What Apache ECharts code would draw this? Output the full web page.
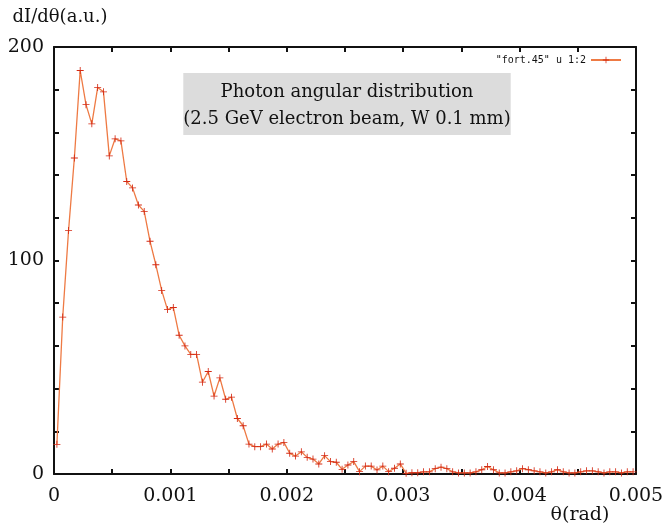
<!DOCTYPE html>
<html>
<head>
<meta charset="utf-8">
<script src="https://cdn.jsdelivr.net/npm/echarts@6/dist/echarts.min.js"></script>
<style>html,body{margin:0;padding:0;background:#fff}#c{width:672px;height:528px}</style>
</head>
<body>
<div id="c"></div>
<script>
// Bin centres in microradians
var thetaMicroRad = [25,75,125,175,225,275,325,375,425,475,
  525,575,625,675,725,775,825,875,925,975,
  1025,1075,1125,1175,1225,1275,1325,1375,1425,1475,
  1525,1575,1625,1675,1725,1775,1825,1875,1925,1975,
  2025,2075,2125,2175,2225,2275,2325,2375,2425,2475,
  2525,2575,2625,2675,2725,2775,2825,2875,2925,2975,
  3025,3075,3125,3175,3225,3275,3325,3375,3425,3475,
  3525,3575,3625,3675,3725,3775,3825,3875,3925,3975,
  4025,4075,4125,4175,4225,4275,4325,4375,4425,4475,
  4525,4575,4625,4675,4725,4775,4825,4875,4925,4975];
var intensity = [13.9,73.5,114,148,189,173,164,181,179,149,
  157,156,137,134,126,123,109,98,86,77,
  78,65,60,56,56,43,48,36.5,45,35,
  36,26,22.6,14,12.8,12.8,14,11.7,14,14.8,
  9.7,8.4,10.4,7.8,7,4.7,8.6,5.8,5.5,2.2,
  4.2,5.8,1.1,3.7,3.7,1.9,3.7,1.1,2.7,4.7,
  0.3,0.6,0.6,1,1,2.5,3.2,2.5,1,0.5,
  0.5,0.5,1,2,3.5,2,0.5,0.5,1,1.5,
  2.5,2,1.5,1,0.5,1,2,1,0.5,0.5,
  1,1.5,1.5,1,0.5,1,1,0.5,1,1];
var xTickLabels = ['0','0.001','0.002','0.003','0.004','0.005'];
var yTickLabels = ['0','100','200'];
var seriesName = '"fort.45" u 1:2';
var titleLines = ['Photon angular distribution','(2.5 GeV electron beam, W 0.1 mm)'];

var data = thetaMicroRad.map(function(t,i){return [t/1e6, intensity[i]];});
var serif = '"DejaVu Serif", "Liberation Serif", serif';
var plus = 'path://M0,4.4H10V5.6H0Z M4.4,0H5.6V10H4.4Z';

function xLab(v){
  var k = Math.round(v*10000);
  if (k % 10 !== 0) return '';
  return xTickLabels[k/10] || '';
}
function yLab(v){
  var k = Math.round(v);
  if (k % 100 !== 0) return '';
  return yTickLabels[k/100] || '';
}
var axisLine = {show:true, onZero:false, lineStyle:{color:'#111', width:2}};
var tick = {show:true, inside:true, length:5, lineStyle:{color:'#111', width:2}};

var chart = echarts.init(document.getElementById('c'));
chart.setOption({
  backgroundColor:'#fff',
  animation:false,
  title:{
    text: titleLines.join('\n'),
    left:347, top:73,
    textAlign:'center',
    backgroundColor:'#dcdcdc',
    padding:[6,0,2,0],
    textStyle:{fontFamily:serif, fontSize:18, fontWeight:'normal', color:'#111', lineHeight:27}
  },
  legend:{
    right:45, top:50, align:'right',
    itemWidth:30, itemHeight:8,
    textStyle:{fontFamily:'"DejaVu Sans Mono", monospace', fontSize:10, color:'#111'},
    data:[seriesName]
  },
  grid:{left:54, right:36, top:47, bottom:54},
  xAxis:[{
    type:'value', min:0, max:0.005, interval:0.0005,
    axisLine:axisLine, axisTick:tick, splitLine:{show:false},
    axisLabel:{formatter:xLab, fontFamily:serif, fontSize:19, color:'#111', margin:13, showMaxLabel:true},
    name:'θ(rad)', nameLocation:'end', nameGap:-56,
    nameTextStyle:{fontFamily:serif, fontSize:19, color:'#111', align:'center', verticalAlign:'top', padding:[32,0,0,0]}
  },{
    type:'value', min:0, max:0.005, interval:0.0005, position:'top',
    axisLine:axisLine, axisTick:tick, splitLine:{show:false}, axisLabel:{show:false}
  }],
  yAxis:[{
    type:'value', min:0, max:200, interval:20,
    axisLine:axisLine, axisTick:tick, splitLine:{show:false},
    axisLabel:{formatter:yLab, fontFamily:serif, fontSize:19, color:'#111', margin:10},
    name:'dI/dθ(a.u.)', nameLocation:'end', nameGap:30,
    nameTextStyle:{fontFamily:serif, fontSize:18, color:'#111', align:'center', verticalAlign:'middle', padding:[0,0,0,12]}
  },{
    type:'value', min:0, max:200, interval:20, position:'right',
    axisLine:axisLine, axisTick:tick, splitLine:{show:false}, axisLabel:{show:false}
  }],
  series:[{
    name:seriesName,
    type:'line',
    data:data,
    symbol:plus, symbolSize:7,
    showAllSymbol:true,
    lineStyle:{color:'#ee7a44', width:1.3},
    itemStyle:{color:'#d42a14'},
    emphasis:{disabled:true}
  }]
});
</script>
</body>
</html>
